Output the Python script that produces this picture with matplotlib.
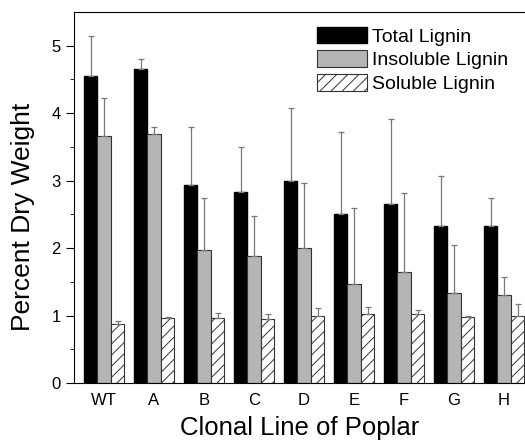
import matplotlib.pyplot as plt
import numpy as np

plt.rcParams["font.family"] = ["Liberation Sans", "DejaVu Sans"]
plt.rcParams["hatch.linewidth"] = 0.7

LINES = ["WT", "A", "B", "C", "D", "E", "F", "G", "H"]
TOTAL = [4.55, 4.65, 2.93, 2.83, 3.00, 2.50, 2.66, 2.33, 2.33]
TOTAL_ERR = [0.60, 0.15, 0.86, 0.67, 1.08, 1.22, 1.26, 0.74, 0.41]
INSOLUBLE = [3.66, 3.69, 1.97, 1.89, 2.00, 1.47, 1.64, 1.34, 1.31]
INSOLUBLE_ERR = [0.56, 0.11, 0.78, 0.59, 0.96, 1.12, 1.18, 0.71, 0.26]
SOLUBLE = [0.88, 0.97, 0.96, 0.95, 0.99, 1.03, 1.02, 0.98, 1.00]
SOLUBLE_ERR = [0.04, 0.01, 0.08, 0.07, 0.12, 0.10, 0.06, 0.01, 0.17]

x = np.arange(len(LINES))
width = 0.27

fig = plt.figure(figsize=(5.25, 4.43), dpi=100)
ax = fig.add_axes([0.141, 0.135, 0.859, 0.838])

err_kw = dict(ecolor="#777777", elinewidth=0.9, capsize=2.5, capthick=0.9)

ax.bar(x - width, TOTAL, width, color="black", edgecolor="black",
       label="Total Lignin",
       yerr=[np.zeros(len(x)), TOTAL_ERR], error_kw=err_kw)
ax.bar(x, INSOLUBLE, width, color="#b5b5b5", edgecolor="#333333", linewidth=0.8,
       label="Insoluble Lignin",
       yerr=[np.zeros(len(x)), INSOLUBLE_ERR], error_kw=err_kw)
ax.bar(x + width, SOLUBLE, width, color="white", edgecolor="#333333", linewidth=0.8,
       hatch="///", label="Soluble Lignin",
       yerr=[np.zeros(len(x)), SOLUBLE_ERR], error_kw=err_kw)

ax.set_xlim(-0.6, 8.42)
ax.set_ylim(0, 5.5)
ax.set_xticks(x)
ax.set_xticklabels(LINES, fontsize=12)
ax.tick_params(axis="x", length=0, pad=7)
ax.set_yticks(range(0, 6))
ax.set_yticks(np.arange(0.5, 5.5, 1.0), minor=True)
ax.tick_params(axis="y", which="major", length=6, labelsize=12, direction="out")
ax.tick_params(axis="y", which="minor", length=3, direction="out")
ax.spines["right"].set_visible(False)

ax.set_ylabel("Percent Dry Weight", fontsize=19)
ax.yaxis.set_label_coords(-0.086, 0.447)
ax.set_xlabel("Clonal Line of Poplar", fontsize=18.5, labelpad=6)

ax.legend(loc="upper right", bbox_to_anchor=(0.992, 0.997), frameon=False,
          fontsize=14, handlelength=2.57, handleheight=0.93,
          labelspacing=0.25, handletextpad=0.26, borderaxespad=0.3)

fig.savefig("out.png", dpi=100)
